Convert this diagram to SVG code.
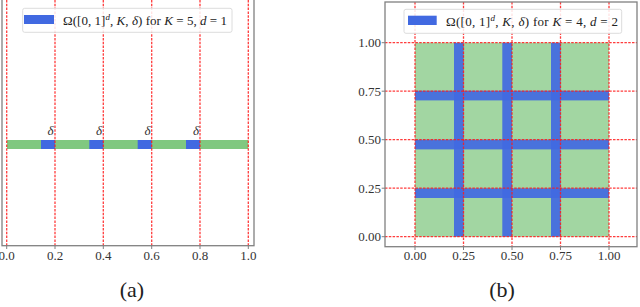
<svg xmlns="http://www.w3.org/2000/svg" width="640" height="307" viewBox="0 0 640 307">
<style>
.frame{fill:none;stroke:#808080;stroke-width:1.3}
.grid{stroke:#ff1a1a;stroke-opacity:0.85;stroke-width:1.3;stroke-dasharray:2.5 1.3;fill:none}
.tick{stroke:#808080;stroke-width:1}
.lbl{font-family:"Liberation Serif","DejaVu Serif",serif;font-size:13px;fill:#333}
.leg{font-family:"Liberation Serif","DejaVu Serif",serif;font-size:13px;fill:#222}
.it{font-style:italic}
.legbox{fill:#fff;fill-opacity:0.85;stroke:#dcdcdc;stroke-width:1}
.blue{fill:#4169e1}
.cap{font-family:"Liberation Serif","DejaVu Serif",serif;font-size:22px;fill:#222}
</style>
<rect width="640" height="307" fill="#fff"/>
<g id="panel-a">
  <rect x="7" y="140" width="241.3" height="9" fill="#80c880"/>
  <rect class="blue" x="41" y="140" width="14" height="9"/>
  <rect class="blue" x="89.3" y="140" width="14" height="9"/>
  <rect class="blue" x="137.7" y="140" width="14" height="9"/>
  <rect class="blue" x="186" y="140" width="14" height="9"/>
  <g class="grid">
    <line x1="6.7" y1="0" x2="6.7" y2="245.7"/>
    <line x1="55" y1="0" x2="55" y2="245.7"/>
    <line x1="103.3" y1="0" x2="103.3" y2="245.7"/>
    <line x1="151.7" y1="0" x2="151.7" y2="245.7"/>
    <line x1="200" y1="0" x2="200" y2="245.7"/>
    <line x1="248.3" y1="0" x2="248.3" y2="245.7"/>
  </g>
  <g class="lbl it" text-anchor="middle">
    <text x="50.5" y="135">δ</text>
    <text x="99" y="135">δ</text>
    <text x="147.5" y="135">δ</text>
    <text x="196" y="135">δ</text>
  </g>
  <rect class="frame" x="2" y="-5" width="252" height="250.7"/>
  <g class="tick">
    <line x1="6.7" y1="245.7" x2="6.7" y2="249"/>
    <line x1="55" y1="245.7" x2="55" y2="249"/>
    <line x1="103.3" y1="245.7" x2="103.3" y2="249"/>
    <line x1="151.7" y1="245.7" x2="151.7" y2="249"/>
    <line x1="200" y1="245.7" x2="200" y2="249"/>
    <line x1="248.3" y1="245.7" x2="248.3" y2="249"/>
  </g>
  <g class="lbl" text-anchor="middle">
    <text x="6.7" y="259.5">0.0</text>
    <text x="55" y="259.5">0.2</text>
    <text x="103.3" y="259.5">0.4</text>
    <text x="151.7" y="259.5">0.6</text>
    <text x="200" y="259.5">0.8</text>
    <text x="248.3" y="259.5">1.0</text>
  </g>
  <g id="legend-a">
    <rect class="legbox" x="22.7" y="8.3" width="209.3" height="24" rx="2"/>
    <rect class="blue" x="24" y="15" width="30" height="9"/>
    <text class="leg" x="63" y="25" textLength="164" lengthAdjust="spacing">Ω([0, 1]<tspan class="it" font-size="9" dy="-5">d</tspan><tspan dy="5">, </tspan><tspan class="it">K</tspan>, <tspan class="it">δ</tspan>) for <tspan class="it">K</tspan> = 5, <tspan class="it">d</tspan> = 1</text>
  </g>
</g>
<g id="panel-b">
  <rect x="415" y="42.7" width="194" height="194" fill="#a2d6a2"/>
  <g class="blue" fill-opacity="0.92">
    <rect x="454" y="42.7" width="9.7" height="194"/>
    <rect x="502.3" y="42.7" width="9.7" height="194"/>
    <rect x="551" y="42.7" width="9.7" height="194"/>
    <rect x="415" y="90.7" width="194" height="9.7"/>
    <rect x="415" y="139.7" width="194" height="9.7"/>
    <rect x="415" y="188.3" width="194" height="9.7"/>
  </g>
  <g class="grid">
    <line x1="415" y1="2" x2="415" y2="246.7"/>
    <line x1="463.5" y1="2" x2="463.5" y2="246.7"/>
    <line x1="512" y1="2" x2="512" y2="246.7"/>
    <line x1="560.5" y1="2" x2="560.5" y2="246.7"/>
    <line x1="609" y1="2" x2="609" y2="246.7"/>
    <line x1="385" y1="42.7" x2="637" y2="42.7"/>
    <line x1="385" y1="91.2" x2="637" y2="91.2"/>
    <line x1="385" y1="139.7" x2="637" y2="139.7"/>
    <line x1="385" y1="188.2" x2="637" y2="188.2"/>
    <line x1="385" y1="236.7" x2="637" y2="236.7"/>
  </g>
  <rect class="frame" x="385" y="2" width="252" height="244.7"/>
  <g class="tick">
    <line x1="415" y1="246.7" x2="415" y2="250"/>
    <line x1="463.5" y1="246.7" x2="463.5" y2="250"/>
    <line x1="512" y1="246.7" x2="512" y2="250"/>
    <line x1="560.5" y1="246.7" x2="560.5" y2="250"/>
    <line x1="609" y1="246.7" x2="609" y2="250"/>
    <line x1="381.7" y1="42.7" x2="385" y2="42.7"/>
    <line x1="381.7" y1="91.2" x2="385" y2="91.2"/>
    <line x1="381.7" y1="139.7" x2="385" y2="139.7"/>
    <line x1="381.7" y1="188.2" x2="385" y2="188.2"/>
    <line x1="381.7" y1="236.7" x2="385" y2="236.7"/>
  </g>
  <g class="lbl" text-anchor="middle">
    <text x="415" y="259.5">0.00</text>
    <text x="463.5" y="259.5">0.25</text>
    <text x="512" y="259.5">0.50</text>
    <text x="560.5" y="259.5">0.75</text>
    <text x="609" y="259.5">1.00</text>
  </g>
  <g class="lbl" text-anchor="end">
    <text x="381" y="47.2">1.00</text>
    <text x="381" y="95.7">0.75</text>
    <text x="381" y="144.2">0.50</text>
    <text x="381" y="192.7">0.25</text>
    <text x="381" y="241.2">0.00</text>
  </g>
  <g id="legend-b">
    <rect class="legbox" x="404" y="9.3" width="217.7" height="24" rx="2"/>
    <rect class="blue" x="408" y="15.7" width="28.7" height="9.3"/>
    <text class="leg" x="446" y="25.5" textLength="172" lengthAdjust="spacing">Ω([0, 1]<tspan class="it" font-size="9" dy="-5">d</tspan><tspan dy="5">, </tspan><tspan class="it">K</tspan>, <tspan class="it">δ</tspan>) for <tspan class="it">K</tspan> = 4, <tspan class="it">d</tspan> = 2</text>
  </g>
</g>
<g id="captions">
  <text class="cap" x="132" y="297" text-anchor="middle">(a)</text>
  <text class="cap" x="502" y="297" text-anchor="middle">(b)</text>
</g>
</svg>
